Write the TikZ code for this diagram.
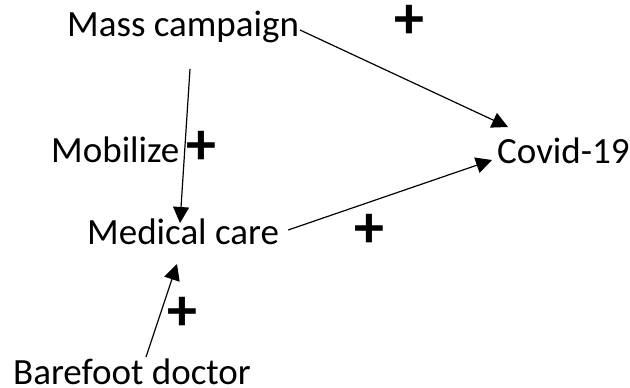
\documentclass[tikz,border=0pt]{standalone}
\usepackage{fontspec}
\setmainfont{Carlito}
\usetikzlibrary{arrows.meta}

\tikzset{
	factor/.style={anchor=base west, inner sep=0pt, font=\fontsize{37}{40}\selectfont},
	sign/.style={anchor=center, inner sep=0pt, font=\bfseries\fontsize{60}{60}\selectfont},
	link/.style={line width=1.2pt, -{Triangle[length=16pt, width=16pt]}}
}

\begin{document}
\begin{tikzpicture}[x=1pt, y=-1pt]
		
		\useasboundingbox (0,0) rectangle (630,388);
		
		\node[factor] (mass) at (67,36) {Mass campaign};
		\node[factor] (covid) at (497,163) {Covid-19};
		\node[factor] (mobilize) at (51,162) {Mobilize};
		\node[factor] (medical) at (87,244) {Medical care};
		\node[factor] (barefoot) at (13,384) {Barefoot doctor};
		
		\node[sign] (s1) at (409,22) {+};
		\node[sign] (s2) at (201,148) {+};
		\node[sign] (s3) at (369,231) {+};
		\node[sign] (s4) at (182,314) {+};
		
		\draw[link] ([shift={(233,-6)}]mass.base west) -- ([shift={(11,-36)}]covid.base west);
		\draw[link] ([shift={(123,33)}]mass.base west) -- ([shift={(93,-21)}]medical.base west);
		\draw[link] ([shift={(9,-14)}]medical.base east) -- ([shift={(-5,-3)}]covid.base west);
		\draw[link] ([shift={(133,-27)}]barefoot.base west) -- ([shift={(90,20)}]medical.base west);
		
	\end{tikzpicture}
\end{document}
